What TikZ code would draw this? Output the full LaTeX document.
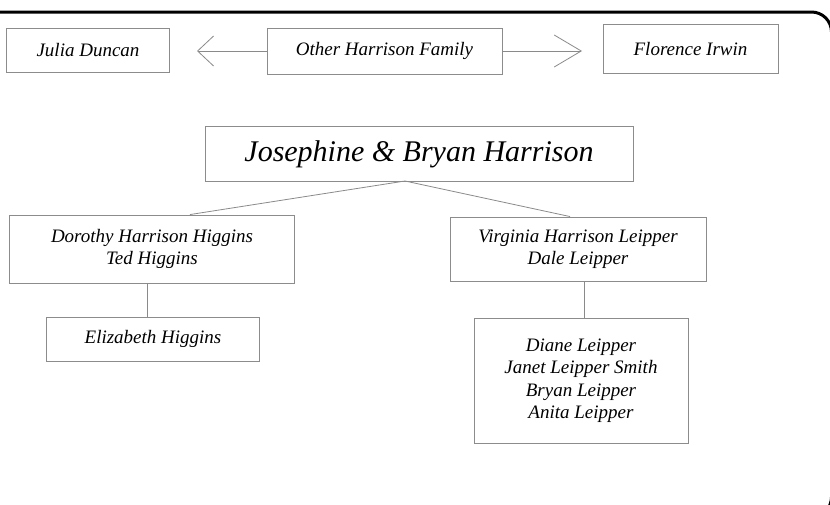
\documentclass[tikz,border=0pt]{standalone}
\usepackage{fontspec}
\setmainfont{Liberation Serif}
\usetikzlibrary{arrows.meta,calc}
\definecolor{boxgray}{HTML}{8C8C8C}
\definecolor{linegray}{HTML}{8A8A8A}
\tikzset{
  person/.style={draw=boxgray, line width=0.9pt, inner sep=0pt, align=center,
    font=\fontsize{19}{22.5}\selectfont\itshape, text=black},
  conn/.style={draw=linegray, line width=0.8pt},
  frame/.style={draw=black, line width=3pt, rounded corners=20pt}
}
\begin{document}
\begin{tikzpicture}[x=1pt,y=-1pt]
\useasboundingbox (0,0) rectangle (830,504);
\begin{scope}
\clip (0,0) rectangle (830,504);
\draw[frame] (-40,12) rectangle (831.5,517);
\end{scope}

\node[person, minimum width=163pt, minimum height=44pt] (julia) at (88,50) {Julia Duncan};
\node[person, minimum width=235pt, minimum height=46pt] (other) at (384.5,51) {Other Harrison Family};
\node[person, minimum width=175pt, minimum height=49pt] (florence) at (690.5,48.5) {Florence Irwin};
\node[person, minimum width=428pt, minimum height=55pt, font=\fontsize{30}{34}\selectfont\itshape] (jos) at (419,154) {Josephine \& Bryan Harrison};
\node[person, minimum width=285pt, minimum height=68pt] (dorothy) at (152,249) {Dorothy Harrison Higgins\\Ted Higgins};
\node[person, minimum width=256pt, minimum height=64pt] (virginia) at (578,249) {Virginia Harrison Leipper\\Dale Leipper};
\node[person, minimum width=213pt, minimum height=44pt] (eliz) at (153,339) {Elizabeth Higgins};
\node[person, minimum width=214pt, minimum height=125pt] (diane) at (581,380.5) {Diane Leipper\\Janet Leipper Smith\\Bryan Leipper\\Anita Leipper};

\coordinate (lt) at (197,51);
\coordinate (rt) at (582,51);
\draw[conn, -{Straight Barb[length=16pt,width=30pt]}] (other.west) -- (lt);
\draw[conn, -{Straight Barb[length=27pt,width=32pt]}] (other.east) -- (rt);

\coordinate (apex) at (405,181);
\coordinate (dl) at (190,0);
\coordinate (vr) at (570,0);
\draw[conn] (apex) -- (dorothy.north -| dl);
\draw[conn] (apex) -- (virginia.north -| vr);

\coordinate (vl) at (147,0);
\coordinate (vv) at (584,0);
\draw[conn] (dorothy.south -| vl) -- (eliz.north -| vl);
\draw[conn] (virginia.south -| vv) -- (diane.north -| vv);
\end{tikzpicture}
\end{document}
